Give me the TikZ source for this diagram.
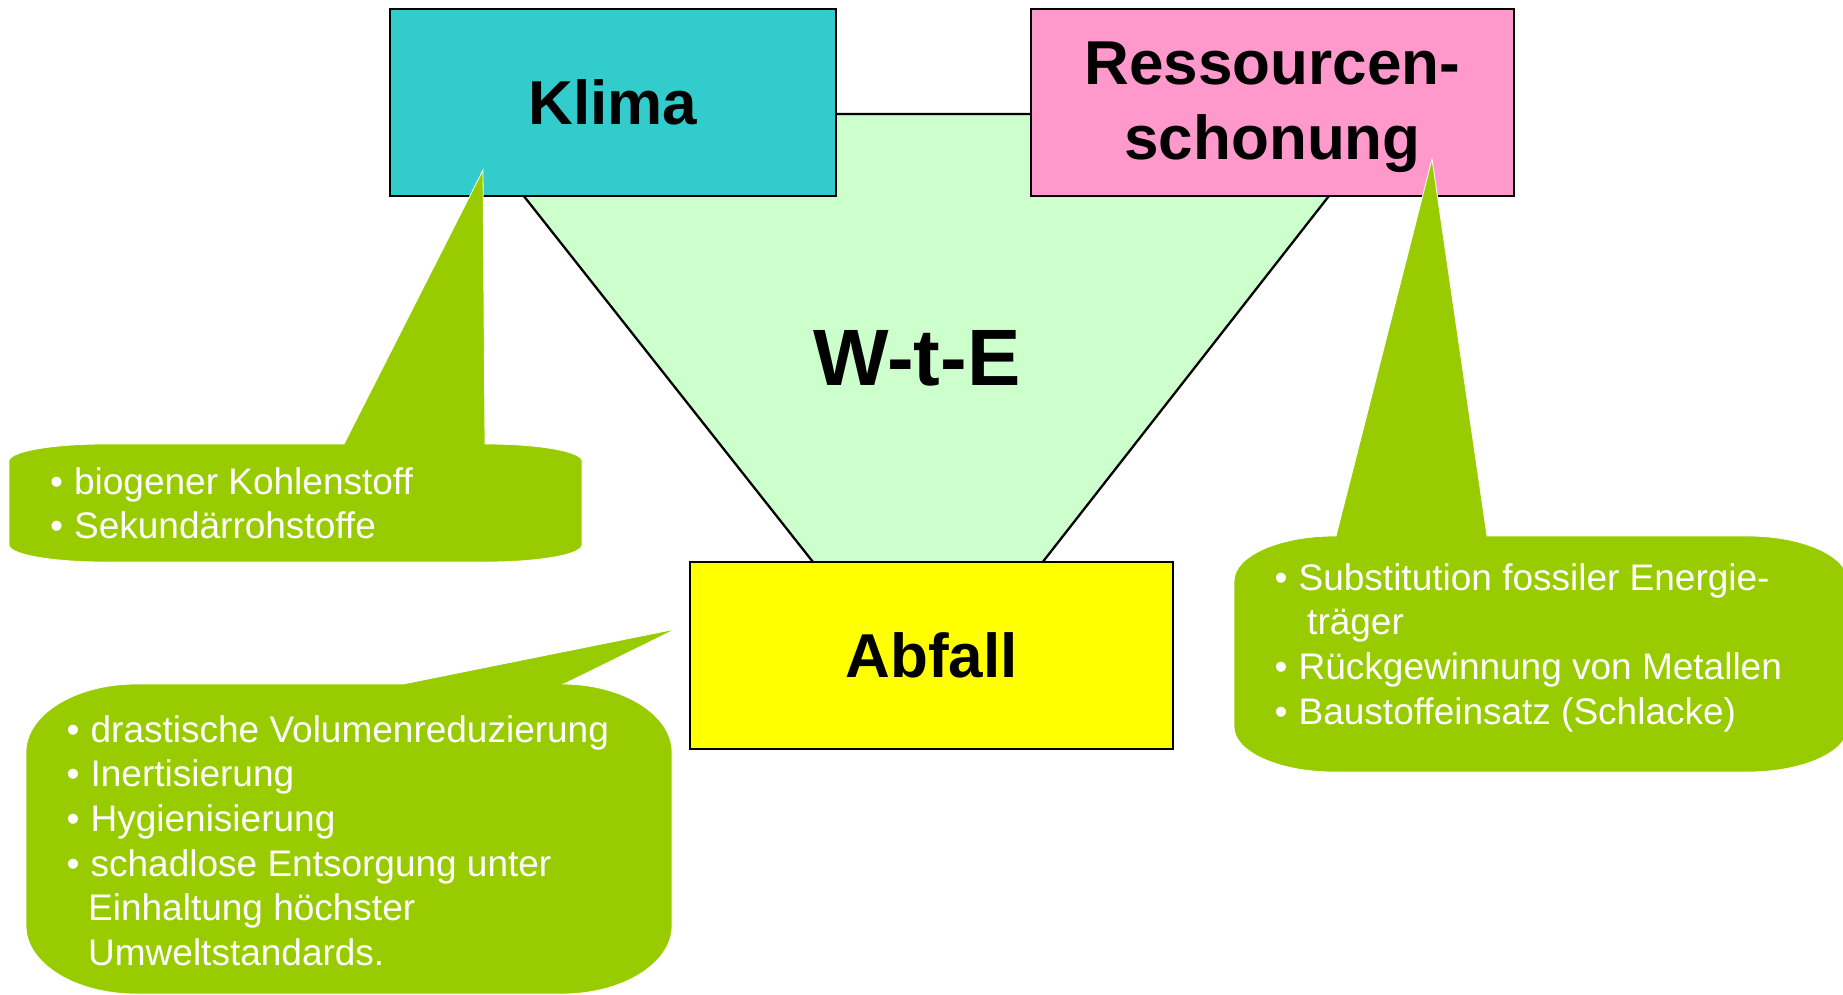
\documentclass[tikz,border=0pt]{standalone}
\usepackage{fontspec}
\setmainfont{Liberation Sans}
\definecolor{callg}{HTML}{99CC00}
\definecolor{trig}{HTML}{CCFFCC}
\definecolor{klimac}{HTML}{33CCCC}
\definecolor{ressc}{HTML}{FF99CC}
\definecolor{abfc}{HTML}{FFFF00}
\tikzset{
  box/.style={draw=black, line width=2.8pt, inner sep=0pt, align=center,
    font=\fontsize{62}{75}\selectfont\bfseries},
  boxtext/.style={inner sep=0pt, align=center,
    font=\fontsize{62}{75}\selectfont\bfseries},
  callout/.style={fill=callg, draw=white, line width=0.8pt},
  ctext/.style={text=white, anchor=base west, inner sep=0pt,
    font=\fontsize{37}{44.7}\selectfont},
  trap/.style={fill=trig, draw=black, line width=2.3pt}
}
\newcommand{\bul}{•\hspace{11pt}}
\begin{document}
\begin{tikzpicture}[x=1pt,y=-1pt]
\useasboundingbox (0,0) rectangle (1843,994);
% central trapezoid
\draw[trap] (459,114) -- (1393,114) -- (1013,600) -- (843,600) -- cycle;
\node[anchor=base, inner sep=0pt, font=\fontsize{80}{80}\selectfont\bfseries] (wte) at (917,385) {W-t-E};
% boxes
\node[box, fill=klimac, minimum width=446pt, minimum height=187pt] (klima) at (613,102.5) {Klima};
\node[box, fill=ressc, minimum width=483pt, minimum height=187pt] (ress) at (1272.5,102.5) {};
\node[boxtext] (resstext) at ([yshift=-5pt]ress.center) {Ressourcen-\\schonung};
\node[box, fill=abfc, minimum width=483pt, minimum height=187pt] (abfall) at (931.5,655.5) {Abfall};
% callout 1
\path[callout] (9,461) .. controls (9,451.6) and (51.6,444) .. (104,444) -- (344,444) -- (483,170) -- (485,444) -- (487,444) .. controls (539.4,444) and (582,451.6) .. (582,461) -- (582,545) .. controls (582,554.4) and (539.4,562) .. (487,562) -- (104,562) .. controls (51.6,562) and (9,554.4) .. (9,545) -- cycle;
\node[ctext] (t1a) at (50,494) {\bul biogener Kohlenstoff};
\node[ctext] (t1b) at (50,538) {\bul Sekundärrohstoffe};
% callout 2
\path[callout] (1234,581) .. controls (1234,556.2) and (1278.8,536) .. (1334,536) -- (1336,536) -- (1432,159) -- (1487,536) -- (1748,536) .. controls (1803.2,536) and (1848,556.2) .. (1848,581) -- (1848,727) .. controls (1848,751.8) and (1803.2,772) .. (1748,772) -- (1334,772) .. controls (1278.8,772) and (1234,751.8) .. (1234,727) -- cycle;
\node[ctext] (t2a) at (1274.5,590) {\bul Substitution fossiler Energie-};
\node[ctext] (t2b) at (1307,634) {träger};
\node[ctext] (t2c) at (1274.5,679) {\bul Rückgewinnung von Metallen};
\node[ctext] (t2d) at (1274.5,724) {\bul Baustoffeinsatz (Schlacke)};
% callout 3
\path[callout] (26,752) .. controls (26,714.5) and (75.3,684) .. (136,684) -- (403,684) -- (676,629) -- (564,684) -- (562,684) .. controls (622.7,684) and (672,714.5) .. (672,752) -- (672,926) .. controls (672,963.5) and (622.7,994) .. (562,994) -- (136,994) .. controls (75.3,994) and (26,963.5) .. (26,926) -- cycle;
\node[ctext] (t3a) at (66.5,742) {\bul drastische Volumenreduzierung};
\node[ctext] (t3b) at (66.5,786) {\bul Inertisierung};
\node[ctext] (t3c) at (66.5,831) {\bul Hygienisierung};
\node[ctext] (t3d) at (66.5,876) {\bul schadlose Entsorgung unter};
\node[ctext] (t3e) at (88,920) {Einhaltung höchster};
\node[ctext] (t3f) at (88,965) {Umweltstandards.};
\end{tikzpicture}
\end{document}
